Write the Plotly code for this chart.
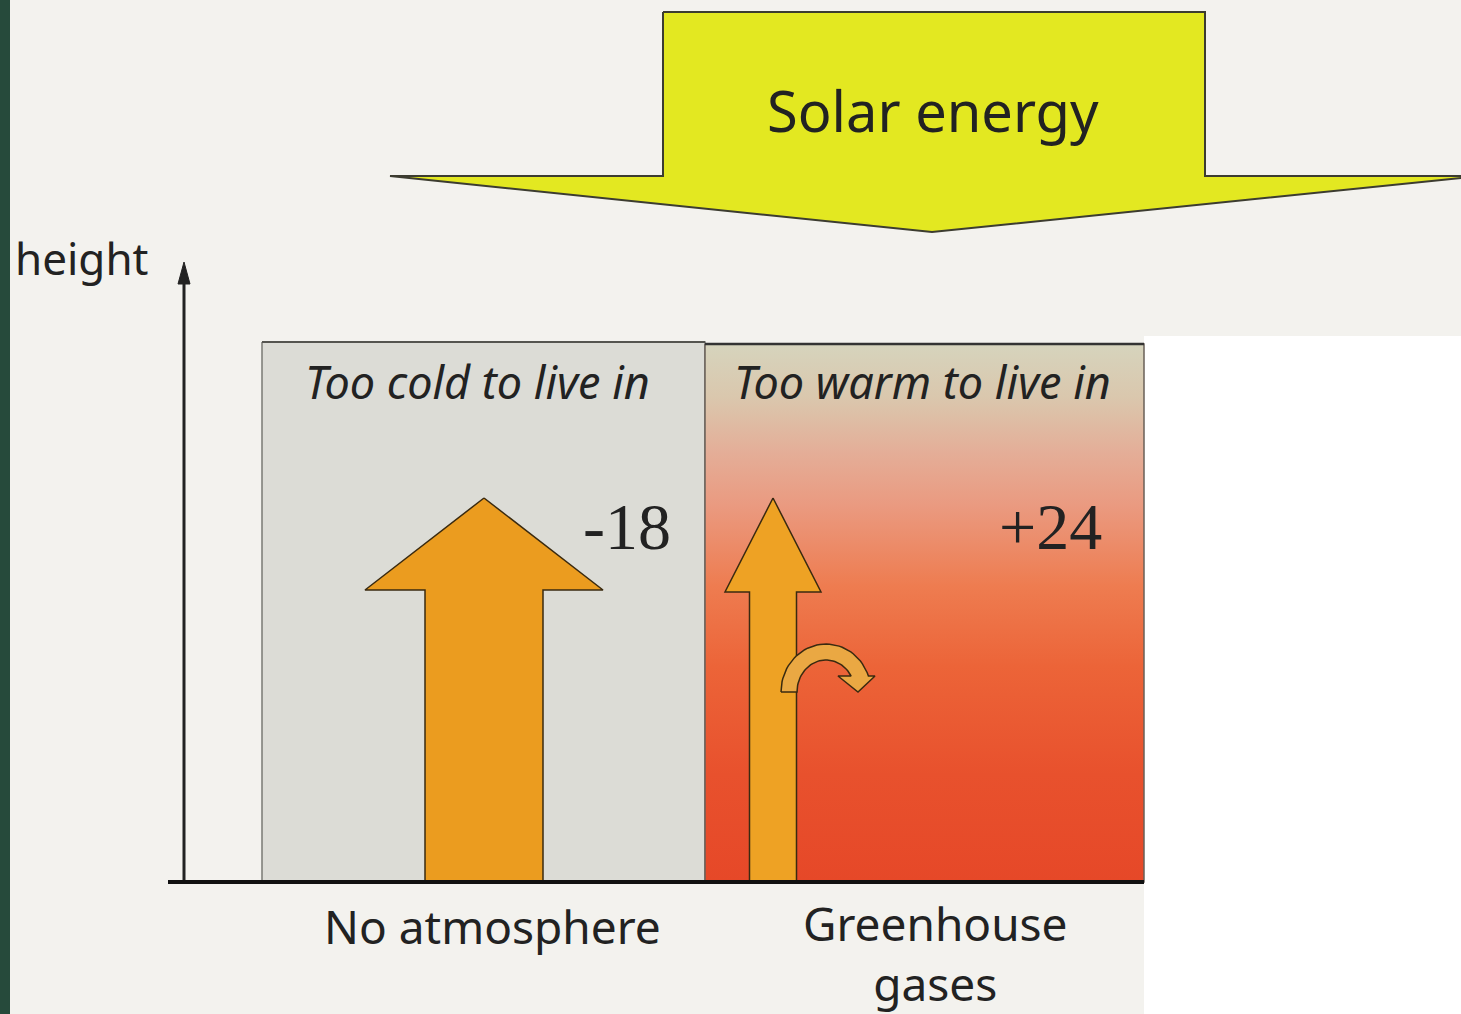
import numpy as np
import plotly.graph_objects as go

# chart content
scenarios = ["No atmosphere", "Greenhouse<br>gases"]
captions = ["Too cold to live in", "Too warm to live in"]
surface_temps = [-18, 24]
axis_label = "height"
source_label = "Solar energy"

W, H = 1461, 1014
INK = "#222222"
ORANGE = "#eb9c1f"

fig = go.Figure()


def poly(xs, ys, fill, line="#3a2a10", lw=1.5, **kw):
    xs = list(xs) + [xs[0]]
    ys = list(ys) + [ys[0]]
    fig.add_trace(go.Scatter(x=xs, y=ys, mode="lines", fill="toself",
                             fillcolor=fill, line=dict(color=line, width=lw),
                             hoverinfo="skip", showlegend=False, **kw))


def line(xs, ys, color=INK, lw=3):
    fig.add_trace(go.Scatter(x=xs, y=ys, mode="lines",
                             line=dict(color=color, width=lw),
                             hoverinfo="skip", showlegend=False))


def up_arrow(cx, tip, head_base, head_half, shaft_half, bottom, fill):
    xs = [cx, cx + head_half, cx + shaft_half, cx + shaft_half,
          cx - shaft_half, cx - shaft_half, cx - head_half]
    ys = [tip, head_base, head_base, bottom, bottom, head_base, head_base]
    poly(xs, ys, fill)


# page pieces
poly([1144, 1470, 1470, 1144], [336, 336, 1020, 1020], "#ffffff", line="#ffffff", lw=0)
poly([-5, 10, 10, -5], [-5, -5, 1020, 1020], "#264a3b", line="#264a3b", lw=0)

# solar energy arrow
poly([663, 1205, 1205, 1480, 932, 390, 663],
     [12, 12, 176, 176, 232, 176, 176], "#e3e821", line="#3c3c30", lw=2)

# panels
poly([262, 705, 705, 262], [342, 342, 882, 882], "#dcdcd6", line="#7a7a74", lw=1.5)
fig.add_trace(go.Scatter(
    x=[705, 1144, 1144, 705, 705], y=[344, 344, 882, 882, 344],
    mode="lines", fill="toself", line=dict(color="#6a6058", width=1.5),
    fillgradient=dict(type="vertical", start=344, stop=882, colorscale=[
        [0.0, "#d6d4bd"], [0.1, "#dac7ad"], [0.2, "#e4ae98"],
        [0.3, "#ea9a80"], [0.45, "#ee7c50"], [0.6, "#ec6438"],
        [0.8, "#e8512d"], [1.0, "#e64828"]]),
    hoverinfo="skip", showlegend=False))
line([262, 705], [342, 342], color="#555550", lw=2)
line([705, 1144], [344, 344], color="#333333", lw=2.5)

# upward radiation arrows
up_arrow(484, 498, 590, 119, 59, 882, ORANGE)
up_arrow(773, 498, 592, 48, 23.5, 882, "#eea224")

# curved arrow (re-radiated heat)
cx, cy = 826, 692
t_out = np.linspace(np.pi, np.radians(19.5), 40)
t_in = np.linspace(np.radians(30), np.pi, 40)
outer_x = cx + 45 * np.cos(t_out)
outer_y = cy - 48 * np.sin(t_out)
inner_x = cx + 29 * np.cos(t_in)
inner_y = cy - 32 * np.sin(t_in)
cxs = list(outer_x) + [875, 858, 838] + list(inner_x)
cys = list(outer_y) + [676, 692, 676] + list(inner_y)
poly(cxs, cys, "#eaa843", lw=1.5)

# axes
line([184, 184], [882, 278], lw=3)
poly([184, 190, 178], [262, 284, 284], INK, line=INK, lw=1)
line([168, 1144], [882, 882], color="#111111", lw=4)

# text
sans = "Noto Sans"
ann = []
ann.append(dict(x=933, y=110, text=source_label, font=dict(family=sans, size=56, color=INK)))
ann.append(dict(x=82, y=258, text=axis_label, font=dict(family=sans, size=44, color=INK)))
panel_cx = [477, 922]
label_cx = [492, 935]
temp_cx = [627, 1050]
for i in range(2):
    ann.append(dict(x=panel_cx[i], y=381, text="<i>" + captions[i] + "</i>",
                    font=dict(family=sans, size=45, color=INK)))
    ann.append(dict(x=temp_cx[i], y=526, text=f"{surface_temps[i]:+d}",
                    font=dict(family="Liberation Serif", size=66, color=INK)))
ann.append(dict(x=label_cx[0], y=926, text=scenarios[0], font=dict(family=sans, size=46, color=INK)))
ann.append(dict(x=label_cx[1], y=953, text=scenarios[1], font=dict(family=sans, size=46, color=INK)))
for a in ann:
    a.update(xref="x", yref="y", showarrow=False, xanchor="center", yanchor="middle")

fig.update_layout(
    width=W, height=H, margin=dict(l=0, r=0, t=0, b=0),
    paper_bgcolor="#f3f2ee", plot_bgcolor="#f3f2ee",
    xaxis=dict(range=[0, W], visible=False, fixedrange=True),
    yaxis=dict(range=[H, 0], visible=False, fixedrange=True),
    annotations=ann, showlegend=False,
)

fig.write_html("out.html", config={"displayModeBar": False},
               post_script="document.body.style.margin='0';")
